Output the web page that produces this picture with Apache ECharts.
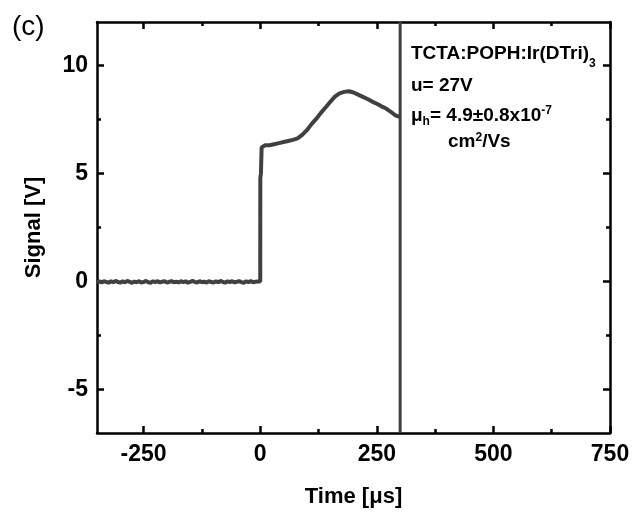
<!DOCTYPE html>
<html>
<head>
<meta charset="utf-8">
<script src="https://cdn.jsdelivr.net/npm/echarts@6/dist/echarts.min.js"></script>
<style>
html,body{margin:0;padding:0;background:#fff;}
#chart{width:635px;height:517px;}
</style>
</head>
<body>
<div id="chart"></div>
<script>
// ---- data ----
const timeUs = [-350,-345,-340,-335,-330,-325,-320,-315,-310,-305,-300,-295,-290,-285,-280,-275,-270,-265,-260,-255,-250,-245,-240,-235,-230,-225,-220,-215,-210,-205,-200,-195,-190,-185,-180,-175,-170,-165,-160,-155,-150,-145,-140,-135,-130,-125,-120,-115,-110,-105,-100,-95,-90,-85,-80,-75,-70,-65,-60,-55,-50,-45,-40,-35,-30,-25,-20,-15,-10,-5,
  0,0.2,1.5,3,10,20,30,40,50,60,70,80,90,100,110,120,130,140,150,160,170,180,190,200,210,220,230,240,250,260,270,280,290,300];
const signalV = [-0.03,0.01,-0.04,0.02,-0.02,-0.05,0.01,-0.03,0.03,-0.02,-0.05,0.01,-0.04,0.03,-0.01,-0.06,0.0,-0.03,0.02,-0.04,-0.02,0.03,-0.03,-0.05,0.01,-0.02,0.02,-0.04,-0.01,0.02,-0.05,-0.01,0.02,-0.03,-0.01,
  -0.04,0.02,-0.03,0.01,-0.05,-0.01,0.03,-0.02,-0.04,0.02,-0.03,0.0,-0.05,0.02,-0.02,-0.04,0.01,-0.03,0.03,-0.02,-0.05,0.01,-0.02,0.02,-0.04,-0.01,0.02,-0.03,-0.05,0.01,-0.02,0.02,-0.03,-0.01,0.0,
  0,4.8,5.0,6.2,6.3,6.3,6.35,6.4,6.45,6.5,6.55,6.62,6.78,7.0,7.28,7.52,7.8,8.05,8.3,8.55,8.7,8.77,8.8,8.74,8.64,8.54,8.44,8.32,8.22,8.1,8.0,7.85,7.68,7.6];
const markerTime = [300, 300];
const markerSignal = [-7, 12];
const xMajorTicks = [-250, 0, 250, 500, 750];
const xMinorTicks = [-125, 125, 375, 625];
const yMajorTicks = [-5, 0, 5, 10];
const yMinorTicks = [-2.5, 2.5, 7.5];
const xRange = [-350, 750];
const yRange = [-7, 12];

const FONT = "'Liberation Sans', Arial, Helvetica, sans-serif";
const INK = '#000';
const TRACE = '#404040';

const chart = echarts.init(document.getElementById('chart'), null, {renderer: 'canvas'});

function xAx(pos, ticks, len, showLine, showLabel) {
  return {
    type: 'value', position: pos, min: xRange[0], max: xRange[1], gridIndex: 0,
    splitLine: {show: false},
    axisLine: {show: showLine, onZero: false, lineStyle: {color: INK, width: 2.5}},
    axisTick: {show: true, inside: true, length: len, customValues: ticks, lineStyle: {color: INK, width: 2.5}},
    axisLabel: showLabel ? {show: true, customValues: ticks, margin: 10, color: INK, fontFamily: FONT, fontWeight: 'bold', fontSize: 23} : {show: false},
    name: showLabel ? 'Time [μs]' : '',
    nameLocation: 'middle', nameGap: 53,
    nameTextStyle: {color: INK, fontFamily: FONT, fontWeight: 'bold', fontSize: 22}
  };
}
function yAx(pos, ticks, len, showLine, showLabel) {
  return {
    type: 'value', position: pos, min: yRange[0], max: yRange[1], gridIndex: 0,
    splitLine: {show: false},
    axisLine: {show: showLine, onZero: false, lineStyle: {color: INK, width: 2.5}},
    axisTick: {show: true, inside: true, length: len, customValues: ticks, lineStyle: {color: INK, width: 2.5}},
    axisLabel: showLabel ? {show: true, customValues: ticks, margin: 9, color: INK, fontFamily: FONT, fontWeight: 'bold', fontSize: 23} : {show: false},
    name: showLabel ? 'Signal [V]' : '',
    nameLocation: 'middle', nameGap: 52,
    nameTextStyle: {color: INK, fontFamily: FONT, fontWeight: 'bold', fontSize: 22}
  };
}

const lineData = timeUs.map((t, i) => [t, signalV[i]]);
const markerData = markerTime.map((t, i) => [t, markerSignal[i]]);

chart.setOption({
  animation: false,
  backgroundColor: '#fff',
  grid: {left: 97, right: 25, top: 22, bottom: 84},
  xAxis: [
    xAx('bottom', xMajorTicks, 7, true, true),
    xAx('bottom', xMinorTicks, 4, false, false),
    xAx('top', xMajorTicks, 7, true, false),
    xAx('top', xMinorTicks, 4, false, false)
  ],
  yAxis: [
    yAx('left', yMajorTicks, 7, true, true),
    yAx('left', yMinorTicks, 4, false, false),
    yAx('right', yMajorTicks, 7, true, false),
    yAx('right', yMinorTicks, 4, false, false)
  ],
  series: [
    {type: 'line', xAxisIndex: 0, yAxisIndex: 0, data: lineData, showSymbol: false, symbol: 'none',
     lineStyle: {color: TRACE, width: 4}, z: 3},
    {type: 'line', xAxisIndex: 0, yAxisIndex: 0, data: markerData, showSymbol: false, symbol: 'none',
     lineStyle: {color: TRACE, width: 3}, z: 3}
  ],
  graphic: [
    {type: 'text', left: 12, top: 13, style: {text: '(c)', font: 'normal 28px ' + FONT, fill: INK}},
    {type: 'text', x: 411, y: 53.5, style: {
      text: 'TCTA:POPH:Ir(DTri){s|3}', fontFamily: FONT, fontWeight: 'bold', fontSize: 19, fill: INK,
      verticalAlign: 'middle',
      rich: {s: {fontFamily: FONT, fontWeight: 'bold', fontSize: 12, fill: INK, padding: [20, 0, 0, 0]}}
    }},
    {type: 'text', x: 411, y: 85.5, style: {
      text: 'u= 27V', fontFamily: FONT, fontWeight: 'bold', fontSize: 19, fill: INK, verticalAlign: 'middle'
    }},
    {type: 'text', x: 411, y: 115.5, style: {
      text: 'μ{s|h}= 4.9±0.8x10{p|-7}', fontFamily: FONT, fontWeight: 'bold', fontSize: 19, fill: INK,
      verticalAlign: 'middle',
      rich: {
        s: {fontFamily: FONT, fontWeight: 'bold', fontSize: 12, fill: INK, padding: [13, 0, 0, 0]},
        p: {fontFamily: FONT, fontWeight: 'bold', fontSize: 12, fill: INK, padding: [0, 0, 9, 0]}
      }
    }},
    {type: 'text', x: 448, y: 141.5, style: {
      text: 'cm{p|2}/Vs', fontFamily: FONT, fontWeight: 'bold', fontSize: 19, fill: INK,
      verticalAlign: 'middle',
      rich: {p: {fontFamily: FONT, fontWeight: 'bold', fontSize: 12, fill: INK, padding: [0, 0, 7, 0]}}
    }}
  ]
});
</script>
</body>
</html>
